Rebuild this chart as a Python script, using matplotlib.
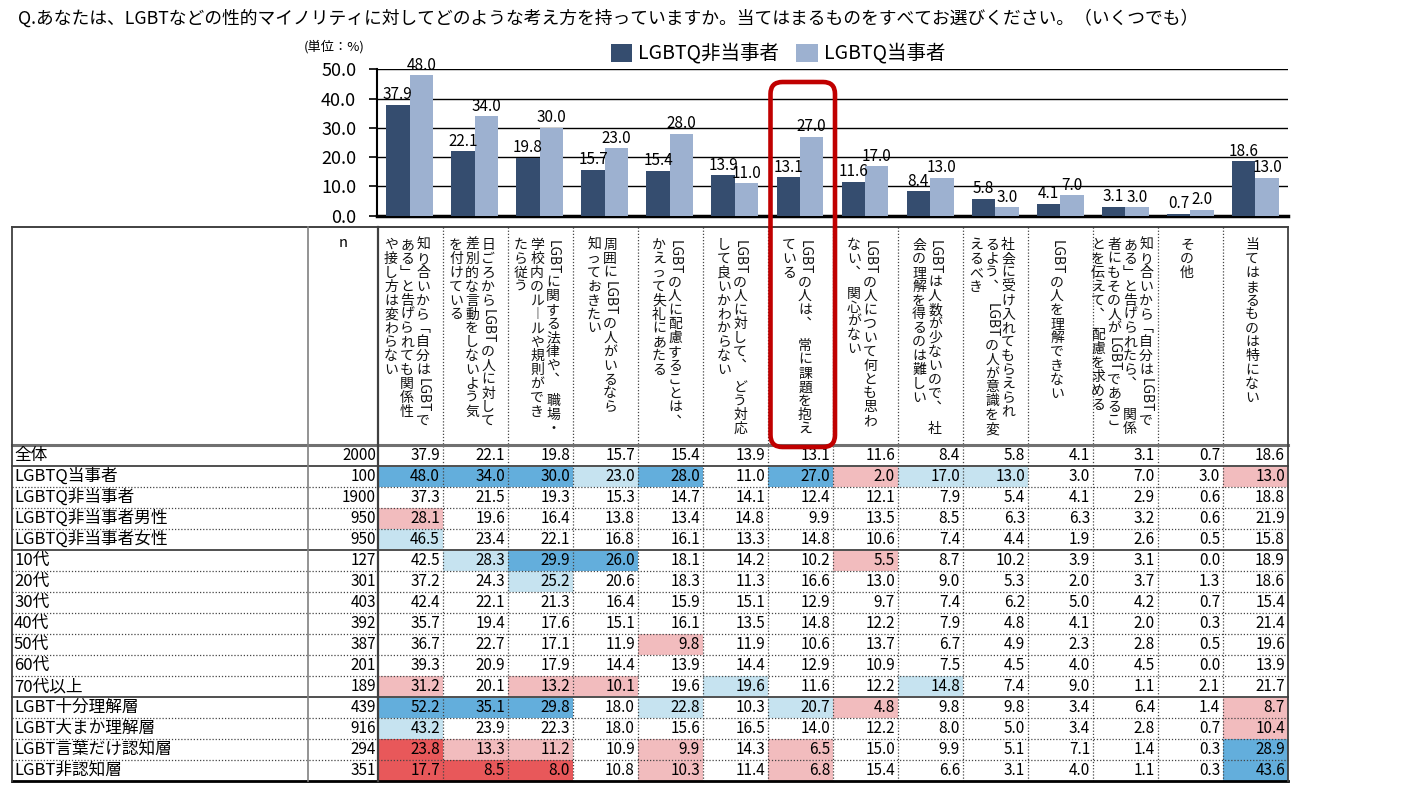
import matplotlib
matplotlib.use('Agg')
import numpy as np
import matplotlib.pyplot as plt
from matplotlib.patches import Rectangle, FancyBboxPatch

plt.rcParams['font.family'] = ['Noto Sans CJK JP', 'DejaVu Sans']

# ---- data ----
title = ('Q.あなたは、LGBTなどの性的マイノリティに対してどのような考え方を持っていますか。'
         '当てはまるものをすべてお選びください。（いくつでも）')

# column headers (vertical text, one entry per printed line, right to left)
headers = [
    ['知り合いから「自分はLGBTで', 'ある」と告げられても関係性', 'や接し方は変わらない'],
    ['日ごろからLGBTの人に対して', '差別的な言動をしないよう気', 'を付けている'],
    ['LGBTに関する法律や、 職場・', '学校内のルールや規則ができ', 'たら従う'],
    ['周囲にLGBTの人がいるなら', '知っておきたい'],
    ['LGBTの人に配慮することは、', 'かえって失礼にあたる'],
    ['LGBTの人に対して、 どう対応', 'して良いかわからない'],
    ['LGBTの人は、 常に課題を抱え', 'ている'],
    ['LGBTの人について何とも思わ', 'ない、 関心がない'],
    ['LGBTは人数が少ないので、 社', '会の理解を得るのは難しい'],
    ['社会に受け入れてもらえられ', 'るよう、 LGBTの人が意識を変', 'えるべき'],
    ['LGBTの人を理解できない'],
    ['知り合いから「自分はLGBTで', 'ある」と告げられたら、 関係', '者にもその人がLGBTであるこ', 'とを伝えて、 配慮を求める'],
    ['その他'],
    ['当てはまるものは特にない'],
]

series_names = ['LGBTQ非当事者', 'LGBTQ当事者']
bar_dark = [37.9, 22.1, 19.8, 15.7, 15.4, 13.9, 13.1, 11.6, 8.4, 5.8, 4.1, 3.1, 0.7, 18.6]
bar_light = [48.0, 34.0, 30.0, 23.0, 28.0, 11.0, 27.0, 17.0, 13.0, 3.0, 7.0, 3.0, 2.0, 13.0]

row_labels = ['全体', 'LGBTQ当事者', 'LGBTQ非当事者', 'LGBTQ非当事者男性', 'LGBTQ非当事者女性',
              '10代', '20代', '30代', '40代', '50代', '60代', '70代以上',
              'LGBT十分理解層', 'LGBT大まか理解層', 'LGBT言葉だけ認知層', 'LGBT非認知層']
row_n = [2000, 100, 1900, 950, 950, 127, 301, 403, 392, 387, 201, 189, 439, 916, 294, 351]
group_sizes = [1, 4, 7, 4]

values = [
    [37.9, 22.1, 19.8, 15.7, 15.4, 13.9, 13.1, 11.6, 8.4, 5.8, 4.1, 3.1, 0.7, 18.6],
    [48.0, 34.0, 30.0, 23.0, 28.0, 11.0, 27.0, 2.0, 17.0, 13.0, 3.0, 7.0, 3.0, 13.0],
    [37.3, 21.5, 19.3, 15.3, 14.7, 14.1, 12.4, 12.1, 7.9, 5.4, 4.1, 2.9, 0.6, 18.8],
    [28.1, 19.6, 16.4, 13.8, 13.4, 14.8, 9.9, 13.5, 8.5, 6.3, 6.3, 3.2, 0.6, 21.9],
    [46.5, 23.4, 22.1, 16.8, 16.1, 13.3, 14.8, 10.6, 7.4, 4.4, 1.9, 2.6, 0.5, 15.8],
    [42.5, 28.3, 29.9, 26.0, 18.1, 14.2, 10.2, 5.5, 8.7, 10.2, 3.9, 3.1, 0.0, 18.9],
    [37.2, 24.3, 25.2, 20.6, 18.3, 11.3, 16.6, 13.0, 9.0, 5.3, 2.0, 3.7, 1.3, 18.6],
    [42.4, 22.1, 21.3, 16.4, 15.9, 15.1, 12.9, 9.7, 7.4, 6.2, 5.0, 4.2, 0.7, 15.4],
    [35.7, 19.4, 17.6, 15.1, 16.1, 13.5, 14.8, 12.2, 7.9, 4.8, 4.1, 2.0, 0.3, 21.4],
    [36.7, 22.7, 17.1, 11.9, 9.8, 11.9, 10.6, 13.7, 6.7, 4.9, 2.3, 2.8, 0.5, 19.6],
    [39.3, 20.9, 17.9, 14.4, 13.9, 14.4, 12.9, 10.9, 7.5, 4.5, 4.0, 4.5, 0.0, 13.9],
    [31.2, 20.1, 13.2, 10.1, 19.6, 19.6, 11.6, 12.2, 14.8, 7.4, 9.0, 1.1, 2.1, 21.7],
    [52.2, 35.1, 29.8, 18.0, 22.8, 10.3, 20.7, 4.8, 9.8, 9.8, 3.4, 6.4, 1.4, 8.7],
    [43.2, 23.9, 22.3, 18.0, 15.6, 16.5, 14.0, 12.2, 8.0, 5.0, 3.4, 2.8, 0.7, 10.4],
    [23.8, 13.3, 11.2, 10.9, 9.9, 14.3, 6.5, 15.0, 9.9, 5.1, 7.1, 1.4, 0.3, 28.9],
    [17.7, 8.5, 8.0, 10.8, 10.3, 11.4, 6.8, 15.4, 6.6, 3.1, 4.0, 1.1, 0.3, 43.6],
]

# highlight level per cell: 2 strong blue, 1 light blue, -1 light red, -2 strong red
highlight = [
    [0, 0, 0, 0, 0, 0, 0, 0, 0, 0, 0, 0, 0, 0],
    [2, 2, 2, 1, 2, 0, 2, -1, 1, 1, 0, 0, 0, -1],
    [0, 0, 0, 0, 0, 0, 0, 0, 0, 0, 0, 0, 0, 0],
    [-1, 0, 0, 0, 0, 0, 0, 0, 0, 0, 0, 0, 0, 0],
    [1, 0, 0, 0, 0, 0, 0, 0, 0, 0, 0, 0, 0, 0],
    [0, 1, 2, 2, 0, 0, 0, -1, 0, 0, 0, 0, 0, 0],
    [0, 0, 1, 0, 0, 0, 0, 0, 0, 0, 0, 0, 0, 0],
    [0, 0, 0, 0, 0, 0, 0, 0, 0, 0, 0, 0, 0, 0],
    [0, 0, 0, 0, 0, 0, 0, 0, 0, 0, 0, 0, 0, 0],
    [0, 0, 0, 0, -1, 0, 0, 0, 0, 0, 0, 0, 0, 0],
    [0, 0, 0, 0, 0, 0, 0, 0, 0, 0, 0, 0, 0, 0],
    [-1, 0, -1, -1, 0, 1, 0, 0, 1, 0, 0, 0, 0, 0],
    [2, 2, 2, 0, 1, 0, 1, -1, 0, 0, 0, 0, 0, -1],
    [1, 0, 0, 0, 0, 0, 0, 0, 0, 0, 0, 0, 0, -1],
    [-2, -1, -1, 0, -1, 0, -1, 0, 0, 0, 0, 0, 0, 2],
    [-2, -2, -2, 0, -1, 0, -1, 0, 0, 0, 0, 0, 0, 2],
]
highlight_col = 6

# ---- styles / layout ----
DARK, LIGHT = '#354D6F', '#9DB1D0'
FILLS = {2: '#63AEDC', 1: '#C6E3F0', -1: '#F2BCBE', -2: '#E8585A'}
W, H = 1419, 792
TAB_L, TAB_R = 12, 1288
TAB_T, HEAD_B = 227, 445
ROW_H = 21
N_L, DATA_L = 308, 378
ncol = len(bar_dark)
COL_W = (TAB_R - DATA_L) / ncol
TAB_B = HEAD_B + ROW_H * len(row_labels)
HEAD_FS = 10.0
EM = HEAD_FS * 100 / 72
LINE_PITCH = 16

fig = plt.figure(figsize=(W / 100, H / 100), dpi=100)


def fig_box(x0, y0, x1, y1):
    return [x0 / W, 1 - y1 / H, (x1 - x0) / W, (y1 - y0) / H]


# ---- bar chart ----
ax = fig.add_axes(fig_box(DATA_L - 1, 69.3, TAB_R, 215.7))
ax.set_zorder(1)
x = np.arange(ncol)
bw = 0.36
b1 = ax.bar(x - bw / 2, bar_dark, bw, color=DARK, label=series_names[0], zorder=3)
b2 = ax.bar(x + bw / 2, bar_light, bw, color=LIGHT, label=series_names[1], zorder=3)
ax.bar_label(b1, fmt='%.1f', padding=1, fontsize=11)
ax.bar_label(b2, fmt='%.1f', padding=1, fontsize=11)
ax.set_xlim(-0.5, ncol - 0.5)
ax.set_ylim(0, 50)
ax.set_yticks(np.arange(0, 51, 10))
ax.yaxis.set_major_formatter(matplotlib.ticker.FormatStrFormatter('%.1f'))
ax.tick_params(axis='y', labelsize=13, length=6, width=1.2, pad=9)
ax.set_xticks([])
ax.yaxis.grid(True, color='black', lw=1.0, zorder=0)
ax.set_axisbelow(True)
for s in ['top', 'right']:
    ax.spines[s].set_visible(False)
ax.spines['left'].set_linewidth(1.5)
ax.spines['bottom'].set_linewidth(2.5)
ax.patch.set_visible(False)
ax.legend(loc='center', bbox_to_anchor=(0.44, 1.105), ncol=2, frameon=False,
          fontsize=14, handlelength=1.1, handleheight=1.1, handletextpad=0.3,
          columnspacing=0.9)

# ---- table (pixel coordinates over full figure) ----
at = fig.add_axes([0, 0, 1, 1])
at.set_zorder(3)
at.set_xlim(0, W)
at.set_ylim(H, 0)
at.axis('off')

at.text(18, 18, title, fontsize=12.8, ha='left', va='center')
at.text(304, 47, '(単位：%)', fontsize=9.5, ha='left', va='center')

# cell fills
for i, row in enumerate(highlight):
    for j, lv in enumerate(row):
        if lv:
            at.add_patch(Rectangle((DATA_L + j * COL_W, HEAD_B + i * ROW_H), COL_W, ROW_H,
                                   facecolor=FILLS[lv], edgecolor='none', zorder=1))

# row texts
for i, (lab, n, vals) in enumerate(zip(row_labels, row_n, values)):
    yc = HEAD_B + (i + 0.5) * ROW_H
    at.text(TAB_L + 2, yc, lab, fontsize=12, ha='left', va='center', zorder=3)
    at.text(DATA_L - 2, yc, str(n), fontsize=11, ha='right', va='center', zorder=3)
    for j, v in enumerate(vals):
        at.text(DATA_L + (j + 1) * COL_W - 3, yc, f'{v:.1f}', fontsize=11,
                ha='right', va='center', zorder=3)

at.text((N_L + DATA_L) / 2, 243, 'n', fontsize=10.5, ha='center', va='center')

# grid lines
bounds = np.cumsum(group_sizes)
for k in range(1, len(row_labels)):
    y = HEAD_B + k * ROW_H
    if k in bounds:
        at.plot([TAB_L, TAB_R], [y, y], color='#505050', lw=1.4, zorder=2)
    else:
        at.plot([TAB_L, TAB_R], [y, y], color='#444444', lw=0.9, ls=(0, (1, 1.5)), zorder=2)
for j in range(1, ncol):
    xx = DATA_L + j * COL_W
    at.plot([xx, xx], [TAB_T, TAB_B], color='#444444', lw=0.9, ls=(0, (1, 1.5)), zorder=2)
at.plot([TAB_L, TAB_R], [TAB_T, TAB_T], color='#333333', lw=1.3, zorder=2)
at.plot([TAB_L, TAB_R], [HEAD_B, HEAD_B], color='#707070', lw=2.2, zorder=2)
at.plot([TAB_L, TAB_R], [TAB_B, TAB_B], color='black', lw=2.0, zorder=2)
at.plot([TAB_L, TAB_L], [TAB_T, TAB_B], color='#404040', lw=1.3, zorder=2)
at.plot([TAB_R, TAB_R], [TAB_T, TAB_B], color='#404040', lw=1.3, zorder=2)
at.plot([N_L, N_L], [TAB_T, TAB_B], color='#808080', lw=1.2, zorder=2)
at.plot([DATA_L, DATA_L], [TAB_T, TAB_B], color='#404040', lw=1.6, zorder=2)

# vertical header text
VERT = {'、': '︑', '。': '︒', '「': '﹁', '」': '﹂', 'ー': '︱'}
renderer = fig.canvas.get_renderer()


def tokens(line):
    out = []
    for ch in line:
        if ch == ' ':
            out.append(['space', ch])
        elif ch.isascii():
            if out and out[-1][0] == 'latin':
                out[-1][1] += ch
            else:
                out.append(['latin', ch])
        else:
            out.append(['cjk', VERT.get(ch, ch)])
    return out


def vertical_line(xc, y0, line, justify_to=None):
    toks = tokens(line)
    sizes = []
    for kind, s in toks:
        if kind == 'cjk':
            sizes.append(EM)
        elif kind == 'space':
            sizes.append(EM * 0.5)
        else:
            t = at.text(0, 0, s, fontsize=HEAD_FS, rotation=-90)
            sizes.append(t.get_window_extent(renderer).height + 3)
            t.remove()
    nsp = sum(1 for k, _ in toks if k == 'space')
    extra = 0
    if justify_to is not None and nsp:
        extra = max(0, (justify_to - y0 - sum(sizes)) / nsp)
    y = y0
    for (kind, s), sz in zip(toks, sizes):
        if kind == 'space':
            y += sz + extra
            continue
        if kind == 'cjk':
            at.text(xc, y, s, fontsize=HEAD_FS, ha='center', va='top', color='#111111')
        else:
            at.text(xc, y + 1.5, s, fontsize=HEAD_FS, ha='center', va='top',
                    rotation=-90, color='#111111')
        y += sz


for j, lines in enumerate(headers):
    cx = DATA_L + (j + 0.5) * COL_W - 3.5
    k = len(lines)
    for i, line in enumerate(lines):
        xc = cx + ((k - 1) / 2 - i) * LINE_PITCH
        vertical_line(xc, 238, line, justify_to=436 if i < k - 1 else None)

# highlight box around one column
hx0 = DATA_L + highlight_col * COL_W + 2.5
at.add_patch(FancyBboxPatch((hx0, 82), COL_W - 0.5, 365,
                            boxstyle='round,pad=0,rounding_size=12',
                            facecolor='none', edgecolor='#C00000', lw=3.3, zorder=5))

fig.savefig('out.png', dpi=100)
